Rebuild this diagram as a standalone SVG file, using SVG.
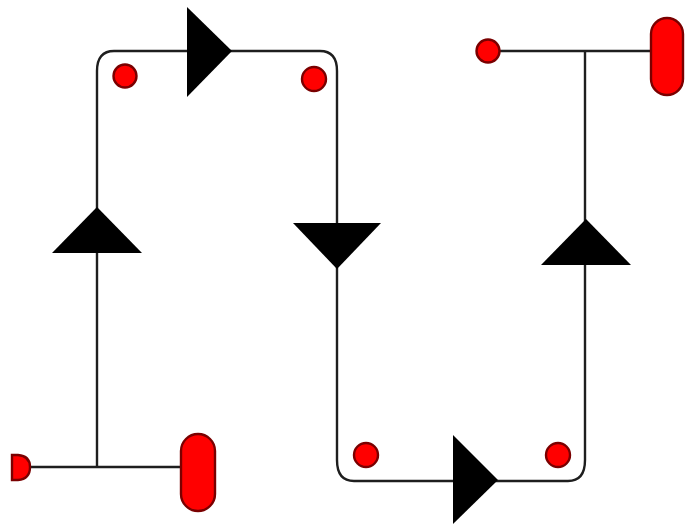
<svg xmlns="http://www.w3.org/2000/svg" width="688" height="529" viewBox="0 0 688 529">
<style>
.w{fill:none;stroke:#1e1e1e;stroke-width:2.4}
.t{fill:#000}
.r{fill:#f00;stroke:#7a0000;stroke-width:2.4}
</style>
<rect width="688" height="529" fill="#fff"/>
<g id="connectors">
<path class="w" d="M29 467H182"/>
<path class="w" d="M97 467V71Q97 51 114 51H320Q337 51 337 71V460Q337 481 354 481H568Q585 481 585 460V51"/>
<path class="w" d="M498 51H652"/>
</g>
<g id="arrow-left"><polygon class="t" points="97,207 142,253 52,253"/></g>
<g id="arrow-top"><polygon class="t" points="187,7 232,51 187,97"/></g>
<g id="arrow-middle"><polygon class="t" points="293,223 381,223 337,269"/></g>
<g id="arrow-bottom"><polygon class="t" points="453,435 498,480 453,524"/></g>
<g id="arrow-right"><polygon class="t" points="586,219 631,265 541,265"/></g>
<g id="pad-bottom-left"><path class="r" d="M12 455H18Q30 456 30 467Q30 479 18 480H12Z"/></g>
<g id="cap-bottom"><rect class="r" x="181" y="434" width="34" height="77" rx="17"/></g>
<g id="cap-top"><rect class="r" x="651" y="18" width="32" height="77" rx="16"/></g>
<g id="pad-top-right"><circle class="r" cx="488" cy="51" r="11.5"/></g>
<g id="dot-1"><circle class="r" cx="125" cy="76" r="11.5"/></g>
<g id="dot-2"><circle class="r" cx="314" cy="79" r="12"/></g>
<g id="dot-3"><circle class="r" cx="366" cy="455" r="12"/></g>
<g id="dot-4"><circle class="r" cx="558" cy="455" r="12"/></g>
</svg>
